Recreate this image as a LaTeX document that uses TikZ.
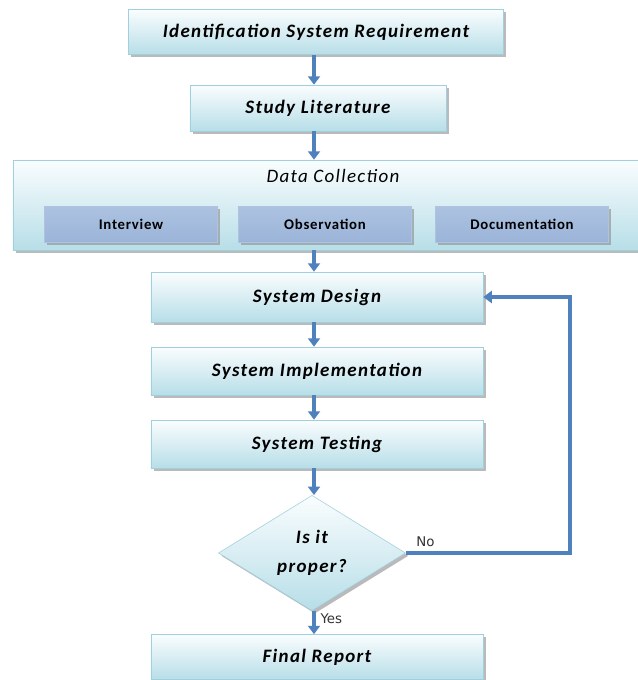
\documentclass[tikz,border=0pt]{standalone}
\usepackage{fontspec}
\setsansfont{Carlito}
\newfontfamily\boxfont{Carlito}[LetterSpace=7]
\newfontfamily\subfont{Carlito}[LetterSpace=5]
\newfontfamily\labelfont{DejaVu Sans}
\usetikzlibrary{arrows.meta,positioning,shapes.geometric,shadows,calc}

\definecolor{flowblue}{RGB}{79,129,189}
\definecolor{boxtop}{RGB}{250,253,254}
\definecolor{boxbot}{RGB}{183,222,232}
\definecolor{boxline}{RGB}{160,208,222}
\definecolor{subtop}{RGB}{172,194,225}
\definecolor{submid}{RGB}{226,234,245}
\definecolor{subbot}{RGB}{155,180,216}

\begin{document}
\begin{tikzpicture}[
  x=0.025cm, y=-0.025cm,
  box/.style={draw=boxline,thin,shading=axis,top color=boxtop,bottom color=boxbot,
    drop shadow={shadow xshift=0.07cm,shadow yshift=-0.07cm,fill=black!45,opacity=0.6},
    font=\boxfont\bfseries\itshape\fontsize{13.5}{15}\selectfont,inner sep=0pt},
  subbox/.style={draw=subbot!80!white,thin,shading=axis,top color=subtop,middle color=submid,bottom color=subbot,
    drop shadow={shadow xshift=0.07cm,shadow yshift=-0.07cm,fill=black!45,opacity=0.6},
    font=\subfont\bfseries\fontsize{10.5}{12}\selectfont,minimum width=4.325cm,minimum height=0.9cm,inner sep=0pt},
  arr/.style={draw=flowblue,line width=2.6pt,-{Triangle[length=6pt,width=8.5pt]}},
  lbl/.style={font=\labelfont\fontsize{9.5}{11}\selectfont,text=black!80}
]
  \useasboundingbox[fill=white] (0,0) rectangle (638,680);

  \node[box,minimum width=9.375cm,minimum height=1.125cm] (isr)   at (316,32)  {Identification System Requirement};
  \node[box,minimum width=6.4cm,minimum height=1.15cm]    (study) at (318,108) {Study Literature};

  % data collection with its three methods
  \node[box,minimum width=15.7cm,minimum height=2.25cm]   (dc)    at (327,205) {};
  \node[font=\boxfont\itshape\fontsize{13.5}{15}\selectfont] (dctitle) at (333,176) {Data Collection};
  \node[subbox] (intv) at (131,224) {Interview};
  \node[subbox] (obs)  at (325,224) {Observation};
  \node[subbox] (doc)  at (522,224) {Documentation};

  \node[box,minimum width=8.3cm,minimum height=1.25cm]    (design) at (317,297) {System Design};
  \node[box,minimum width=8.3cm,minimum height=1.2cm]     (impl)   at (317,371) {System Implementation};
  \node[box,minimum width=8.3cm,minimum height=1.2cm]     (test)   at (317,444) {System Testing};
  \node[box,diamond,align=center,minimum width=4.675cm,minimum height=2.675cm] (check) at (312,553) {Is it\\[6pt]proper?};
  \node[box,minimum width=8.3cm,minimum height=1.125cm]   (final)  at (317,657) {Final Report};

  \coordinate (back) at (570,554);

  \draw[arr] (isr.south -| 314,0) -- (study.north -| 314,0);
  \draw[arr] (study.south -| 314,0) -- (dc.north -| 314,0);
  \draw[arr] (dc.south -| 314,0) -- (design.north -| 314,0);
  \draw[arr] (design.south -| 314,0) -- (impl.north -| 314,0);
  \draw[arr] (impl.south -| 314,0) -- (test.north -| 314,0);
  \draw[arr] (test.south -| 314,0) -- (check.north -| 314,0);
  \draw[arr] (check.south -| 314,0) -- node[lbl,right,pos=0.35] {Yes} (final.north -| 314,0);
  \draw[arr] (check.east) -- node[lbl,above,pos=0.12] {No} (back |- check.east) -- (back |- design.east) -- (design.east);
\end{tikzpicture}
\end{document}
